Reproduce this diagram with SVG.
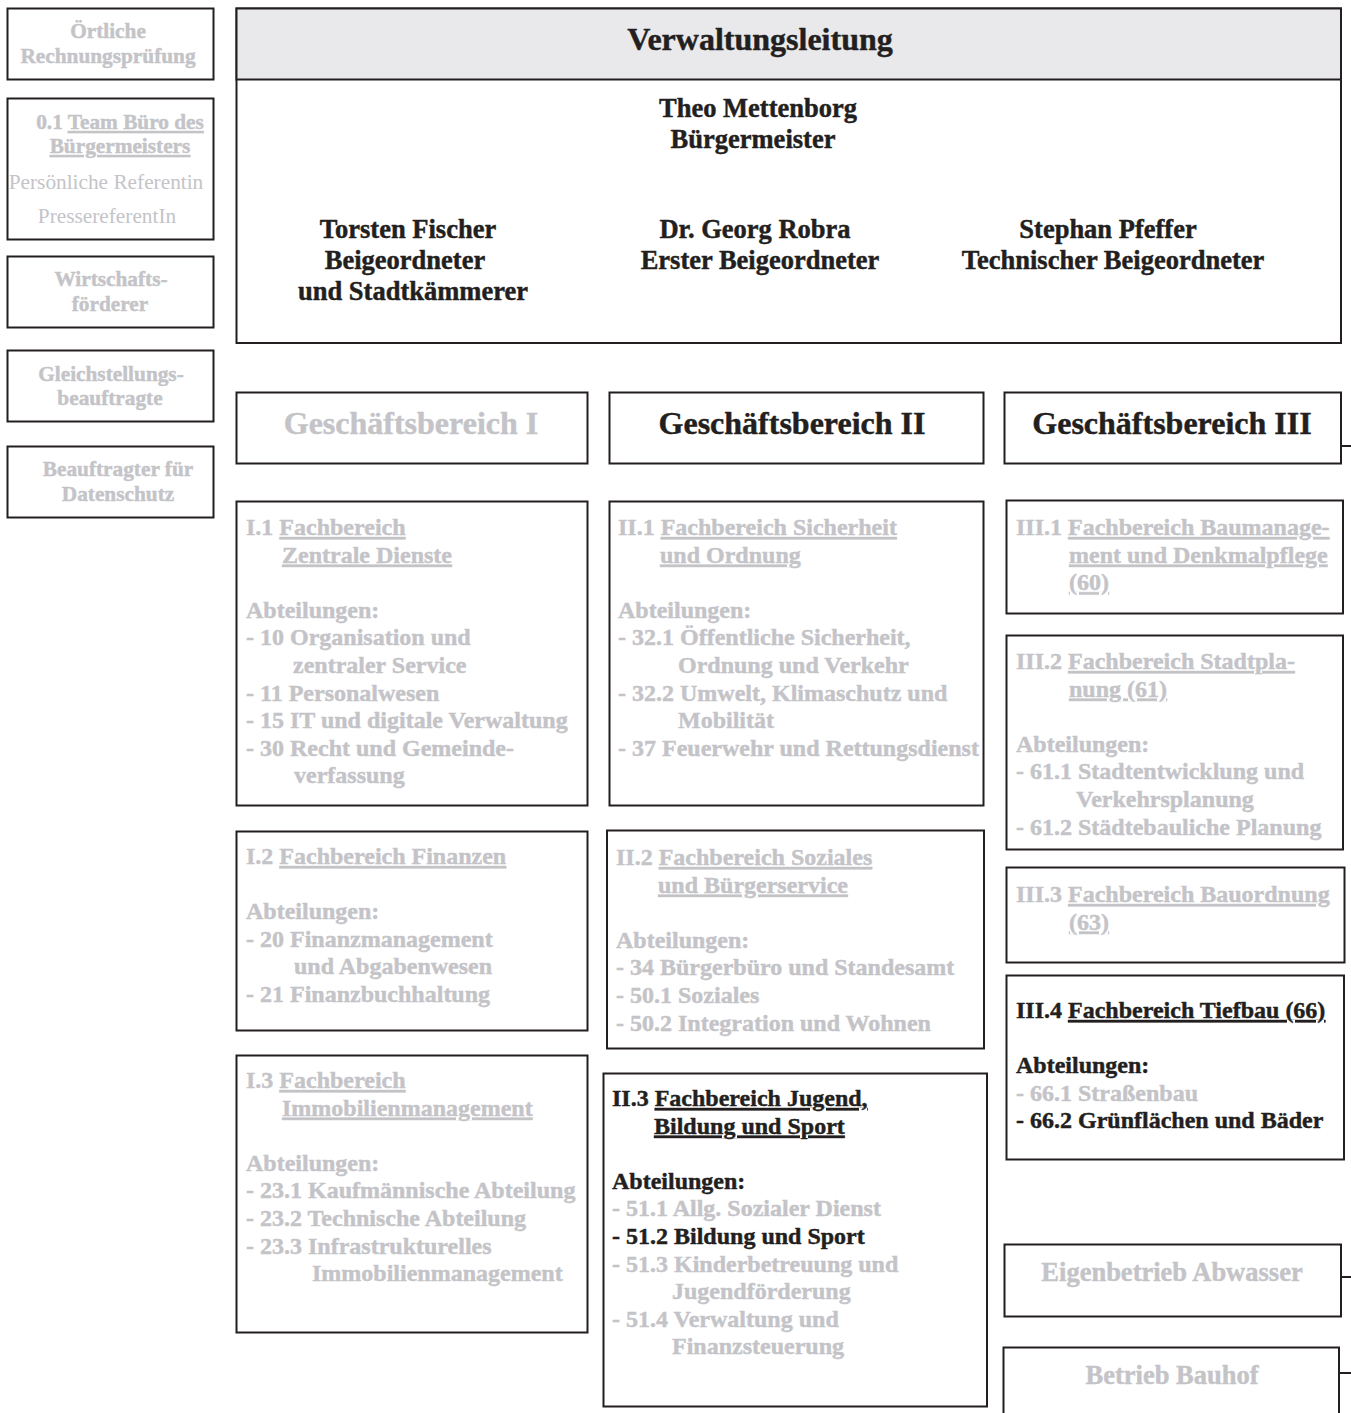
<svg xmlns="http://www.w3.org/2000/svg" width="1351" height="1413" viewBox="0 0 1351 1413">
<style>
.box{fill:#fff;stroke:#231f20;stroke-width:2}
.hdr{fill:#e9e9eb;stroke:#231f20;stroke-width:2}
.t{font-family:"Liberation Serif","Times New Roman",serif;font-weight:bold;stroke-width:0.45px;stroke-linejoin:round}
.g{fill:#c4c4c8;stroke:#c4c4c8}
.k{fill:#231f20;stroke:#231f20}
.s21{font-size:21.3px}
.s24{font-size:24px}
.s26{font-size:26.5px}
.s32{font-size:32px}
.c{text-anchor:middle}
.n{font-weight:normal;stroke-width:0}
.u{text-decoration:underline;text-decoration-skip-ink:none;text-decoration-thickness:2px}
.con{stroke:#231f20;stroke-width:2;fill:none}
</style>
<rect x="0" y="0" width="1351" height="1413" fill="#fff"/>

<g id="rechnungspruefung">
<rect class="box" x="7.5" y="8.5" width="206" height="71"/>
<text class="t s21 g c" x="108" y="38">Örtliche</text>
<text class="t s21 g c" x="108" y="63">Rechnungsprüfung</text>
</g>
<g id="buero-buergermeister">
<rect class="box" x="7.5" y="98.5" width="206" height="141"/>
<text class="t s21 g c" x="120" y="129">0.1 <tspan class="u">Team Büro des</tspan></text>
<text class="t s21 g c u" x="120" y="153">Bürgermeisters</text>
<text class="t s21 g c n" x="106" y="189">Persönliche Referentin</text>
<text class="t s21 g c n" x="107" y="223">PressereferentIn</text>
</g>
<g id="wirtschaftsfoerderer">
<rect class="box" x="7.5" y="256.5" width="206" height="71"/>
<text class="t s21 g c" x="111" y="286">Wirtschafts-</text>
<text class="t s21 g c" x="110" y="311">förderer</text>
</g>
<g id="gleichstellung">
<rect class="box" x="7.5" y="350.5" width="206" height="71"/>
<text class="t s21 g c" x="111" y="381">Gleichstellungs-</text>
<text class="t s21 g c" x="110" y="405">beauftragte</text>
</g>
<g id="datenschutz">
<rect class="box" x="7.5" y="446.5" width="206" height="71"/>
<text class="t s21 g c" x="118" y="476">Beauftragter für</text>
<text class="t s21 g c" x="118" y="501">Datenschutz</text>
</g>

<g id="verwaltungsleitung">
<rect class="box" x="236.5" y="8.5" width="1104.5" height="334.5"/>
<rect class="hdr" x="236.5" y="8.5" width="1104.5" height="71"/>
<text class="t s32 k c" x="760" y="50">Verwaltungsleitung</text>
<text class="t s26 k c" x="758" y="117">Theo Mettenborg</text>
<text class="t s26 k c" x="753" y="148">Bürgermeister</text>
<text class="t s26 k c" x="408" y="238">Torsten Fischer</text>
<text class="t s26 k c" x="405" y="269">Beigeordneter</text>
<text class="t s26 k c" x="413" y="300">und Stadtkämmerer</text>
<text class="t s26 k c" x="755" y="238">Dr. Georg Robra</text>
<text class="t s26 k c" x="760" y="269">Erster Beigeordneter</text>
<text class="t s26 k c" x="1108" y="238">Stephan Pfeffer</text>
<text class="t s26 k c" x="1113" y="269">Technischer Beigeordneter</text>
</g>

<g id="gb1">
<rect class="box" x="236.5" y="392.5" width="351" height="71"/>
<text class="t s32 g c" x="411" y="434">Geschäftsbereich I</text>
</g>
<g id="gb2">
<rect class="box" x="609.5" y="392.5" width="374" height="71"/>
<text class="t s32 k c" x="792" y="434">Geschäftsbereich II</text>
</g>
<g id="gb3">
<rect class="box" x="1004.5" y="392.5" width="336.5" height="71"/>
<text class="t s32 k c" x="1172" y="434">Geschäftsbereich III</text>
</g>

<g id="fb-i1">
<rect class="box" x="236.5" y="501.5" width="351" height="304"/>
<text class="t s24 g" x="246" y="535">I.1 <tspan class="u">Fachbereich</tspan></text>
<text class="t s24 g u" x="282" y="562.6">Zentrale Dienste</text>
<text class="t s24 g" x="246" y="617.8">Abteilungen:</text>
<text class="t s24 g" x="246" y="645.4">- 10 Organisation und</text>
<text class="t s24 g" x="293" y="673">zentraler Service</text>
<text class="t s24 g" x="246" y="700.6">- 11 Personalwesen</text>
<text class="t s24 g" x="246" y="728.2">- 15 IT und digitale Verwaltung</text>
<text class="t s24 g" x="246" y="755.8">- 30 Recht und Gemeinde-</text>
<text class="t s24 g" x="294" y="783.4">verfassung</text>
</g>
<g id="fb-i2">
<rect class="box" x="236.5" y="831.5" width="351" height="199"/>
<text class="t s24 g" x="246" y="864">I.2 <tspan class="u">Fachbereich Finanzen</tspan></text>
<text class="t s24 g" x="246" y="919.2">Abteilungen:</text>
<text class="t s24 g" x="246" y="946.8">- 20 Finanzmanagement</text>
<text class="t s24 g" x="294" y="974.4">und Abgabenwesen</text>
<text class="t s24 g" x="246" y="1002">- 21 Finanzbuchhaltung</text>
</g>
<g id="fb-i3">
<rect class="box" x="236.5" y="1055.5" width="351" height="277"/>
<text class="t s24 g" x="246" y="1088">I.3 <tspan class="u">Fachbereich</tspan></text>
<text class="t s24 g u" x="282" y="1115.6">Immobilienmanagement</text>
<text class="t s24 g" x="246" y="1170.8">Abteilungen:</text>
<text class="t s24 g" x="246" y="1198.4">- 23.1 Kaufmännische Abteilung</text>
<text class="t s24 g" x="246" y="1226">- 23.2 Technische Abteilung</text>
<text class="t s24 g" x="246" y="1253.6">- 23.3 Infrastrukturelles</text>
<text class="t s24 g" x="312" y="1281.2">Immobilienmanagement</text>
</g>

<g id="fb-ii1">
<rect class="box" x="609.5" y="501.5" width="374" height="304"/>
<text class="t s24 g" x="618" y="535">II.1 <tspan class="u">Fachbereich Sicherheit</tspan></text>
<text class="t s24 g u" x="660" y="562.6">und Ordnung</text>
<text class="t s24 g" x="618" y="617.8">Abteilungen:</text>
<text class="t s24 g" x="618" y="645.4">- 32.1 Öffentliche Sicherheit,</text>
<text class="t s24 g" x="678" y="673">Ordnung und Verkehr</text>
<text class="t s24 g" x="618" y="700.6">- 32.2 Umwelt, Klimaschutz und</text>
<text class="t s24 g" x="678" y="728.2">Mobilität</text>
<text class="t s24 g" x="618" y="755.8">- 37 Feuerwehr und Rettungsdienst</text>
</g>
<g id="fb-ii2">
<rect class="box" x="607" y="830.5" width="377" height="218"/>
<text class="t s24 g" x="616" y="865">II.2 <tspan class="u">Fachbereich Soziales</tspan></text>
<text class="t s24 g u" x="658" y="892.6">und Bürgerservice</text>
<text class="t s24 g" x="616" y="947.8">Abteilungen:</text>
<text class="t s24 g" x="616" y="975.4">- 34 Bürgerbüro und Standesamt</text>
<text class="t s24 g" x="616" y="1003">- 50.1 Soziales</text>
<text class="t s24 g" x="616" y="1030.6">- 50.2 Integration und Wohnen</text>
</g>
<g id="fb-ii3">
<rect class="box" x="603.5" y="1073.5" width="383.5" height="333"/>
<text class="t s24 k" x="612" y="1106">II.3 <tspan class="u">Fachbereich Jugend,</tspan></text>
<text class="t s24 k u" x="654" y="1133.6">Bildung und Sport</text>
<text class="t s24 k" x="612" y="1188.8">Abteilungen:</text>
<text class="t s24 g" x="612" y="1216.4">- 51.1 Allg. Sozialer Dienst</text>
<text class="t s24 k" x="612" y="1244">- 51.2 Bildung und Sport</text>
<text class="t s24 g" x="612" y="1271.6">- 51.3 Kinderbetreuung und</text>
<text class="t s24 g" x="672" y="1299.2">Jugendförderung</text>
<text class="t s24 g" x="612" y="1326.8">- 51.4 Verwaltung und</text>
<text class="t s24 g" x="672" y="1354.4">Finanzsteuerung</text>
</g>

<g id="fb-iii1">
<rect class="box" x="1006.5" y="500.5" width="336.5" height="113"/>
<text class="t s24 g" x="1016" y="535">III.1 <tspan class="u">Fachbereich Baumanage-</tspan></text>
<text class="t s24 g u" x="1069" y="562.6">ment und Denkmalpflege</text>
<text class="t s24 g u" x="1069" y="590.2">(60)</text>
</g>
<g id="fb-iii2">
<rect class="box" x="1006.5" y="635.5" width="336.5" height="214"/>
<text class="t s24 g" x="1016" y="669">III.2 <tspan class="u">Fachbereich Stadtpla-</tspan></text>
<text class="t s24 g u" x="1069" y="696.6">nung (61)</text>
<text class="t s24 g" x="1016" y="751.8">Abteilungen:</text>
<text class="t s24 g" x="1016" y="779.4">- 61.1 Stadtentwicklung und</text>
<text class="t s24 g" x="1076" y="807">Verkehrsplanung</text>
<text class="t s24 g" x="1016" y="834.6">- 61.2 Städtebauliche Planung</text>
</g>
<g id="fb-iii3">
<rect class="box" x="1006.5" y="867.5" width="338" height="95"/>
<text class="t s24 g" x="1016" y="902">III.3 <tspan class="u">Fachbereich Bauordnung</tspan></text>
<text class="t s24 g u" x="1069" y="929.6">(63)</text>
</g>
<g id="fb-iii4">
<rect class="box" x="1006.5" y="975.5" width="337.5" height="184"/>
<text class="t s24 k" x="1016" y="1018">III.4 <tspan class="u">Fachbereich Tiefbau (66)</tspan></text>
<text class="t s24 k" x="1016" y="1073.2">Abteilungen:</text>
<text class="t s24 g" x="1016" y="1100.8">- 66.1 Straßenbau</text>
<text class="t s24 k" x="1016" y="1128.4">- 66.2 Grünflächen und Bäder</text>
</g>
<g id="eigenbetrieb-abwasser">
<rect class="box" x="1004.5" y="1244.5" width="336.5" height="72"/>
<text class="t s26 g c" x="1172" y="1281">Eigenbetrieb Abwasser</text>
</g>
<g id="betrieb-bauhof">
<rect class="box" x="1003.5" y="1347.5" width="335.5" height="80"/>
<text class="t s26 g c" x="1172" y="1384">Betrieb Bauhof</text>
</g>

<g id="connectors">
<line class="con" x1="1341" y1="446" x2="1351" y2="446"/>
<line class="con" x1="1341" y1="1277" x2="1351" y2="1277"/>
<line class="con" x1="1339" y1="1373" x2="1351" y2="1373"/>
</g>
</svg>
